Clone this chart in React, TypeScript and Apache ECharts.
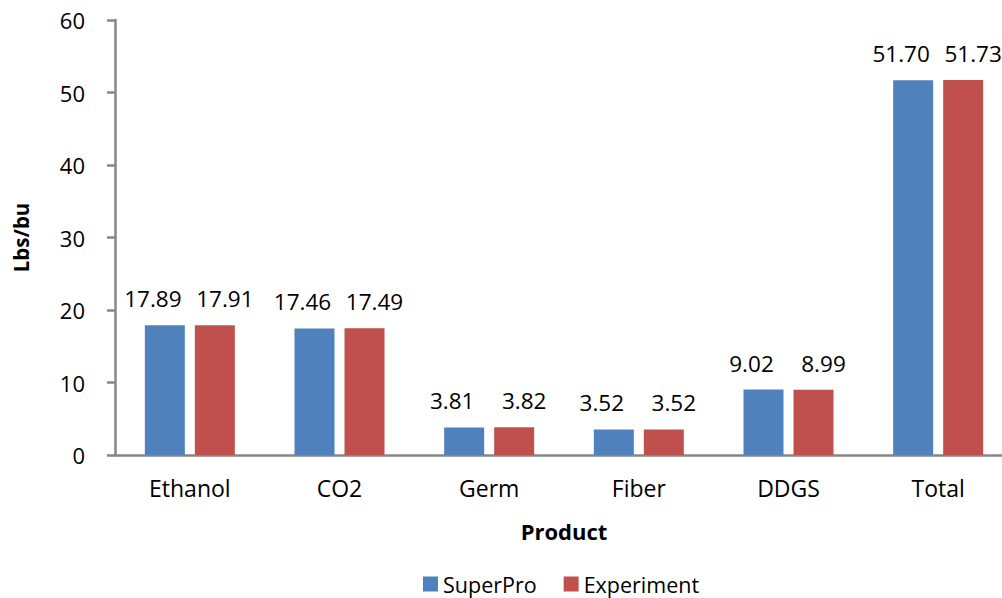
import React, { useEffect, useRef } from "react";
import * as echarts from "echarts";

const categories = ["Ethanol", "CO2", "Germ", "Fiber", "DDGS", "Total"];
const superPro = [17.89, 17.46, 3.81, 3.52, 9.02, 51.7];
const experiment = [17.91, 17.49, 3.82, 3.52, 8.99, 51.73];
const yTicks = { min: 0, max: 60, interval: 10 };

const FONT = "'Open Sans', sans-serif";

export default function App() {
  const ref = useRef<HTMLDivElement>(null);
  useEffect(() => {
    const chart = echarts.init(ref.current!, null, { renderer: "svg" });
    const label = (dx: number) => ({
      show: true,
      position: "top",
      distance: 15,
      offset: [dx, 0],
      color: "#000",
      fontSize: 22.5,
      fontFamily: FONT,
      formatter: (p: any) => p.value.toFixed(2),
    });
    chart.setOption({
      animation: false,
      textStyle: { fontFamily: FONT },
      legend: {
        top: 573,
        left: 423,
        itemWidth: 15,
        itemHeight: 15,
        itemGap: 27,
        padding: 0,
        icon: "rect",
        textStyle: { fontSize: 21.5, lineHeight: 22, color: "#000", fontFamily: FONT },
        data: ["SuperPro", "Experiment"],
      },
      grid: { left: 115, top: 20, width: 898, height: 435 },
      xAxis: {
        type: "category",
        data: categories,
        name: "Product",
        nameLocation: "middle",
        nameGap: 65,
        nameTextStyle: { fontSize: 22, fontWeight: "bold", color: "#000", fontFamily: FONT },
        axisLine: { lineStyle: { color: "#868686", width: 2.5 } },
        axisTick: { show: false },
        axisLabel: { fontSize: 23, color: "#000", margin: 21, fontFamily: FONT },
      },
      yAxis: {
        type: "value",
        min: yTicks.min,
        max: yTicks.max,
        interval: yTicks.interval,
        name: "Lbs/bu",
        nameLocation: "middle",
        nameGap: 84,
        nameTextStyle: {
          fontSize: 20.5,
          fontWeight: "bold",
          color: "#000",
          fontFamily: FONT,
        },
        axisLine: { show: true, lineStyle: { color: "#868686", width: 2.5 } },
        axisTick: { show: true, length: 8, lineStyle: { color: "#868686", width: 2.5 } },
        splitLine: { show: false },
        axisLabel: { fontSize: 22, color: "#000", margin: 30, fontFamily: FONT },
      },
      series: [
        {
          name: "SuperPro",
          type: "bar",
          data: superPro,
          barWidth: 40,
          barGap: "25%",
          itemStyle: { color: "#4F81BD" },
          label: label(-12),
        },
        {
          name: "Experiment",
          type: "bar",
          data: experiment,
          barWidth: 40,
          barGap: "25%",
          itemStyle: { color: "#C0504D" },
          label: label(10),
        },
      ],
    });
    return () => chart.dispose();
  }, []);
  return (
    <div
      style={{
        position: "fixed",
        left: 0,
        top: 0,
        width: 1002,
        height: 598,
        overflow: "hidden",
        background: "#fff",
      }}
    >
      <div ref={ref} style={{ width: 1030, height: 598 }} />
    </div>
  );
}
